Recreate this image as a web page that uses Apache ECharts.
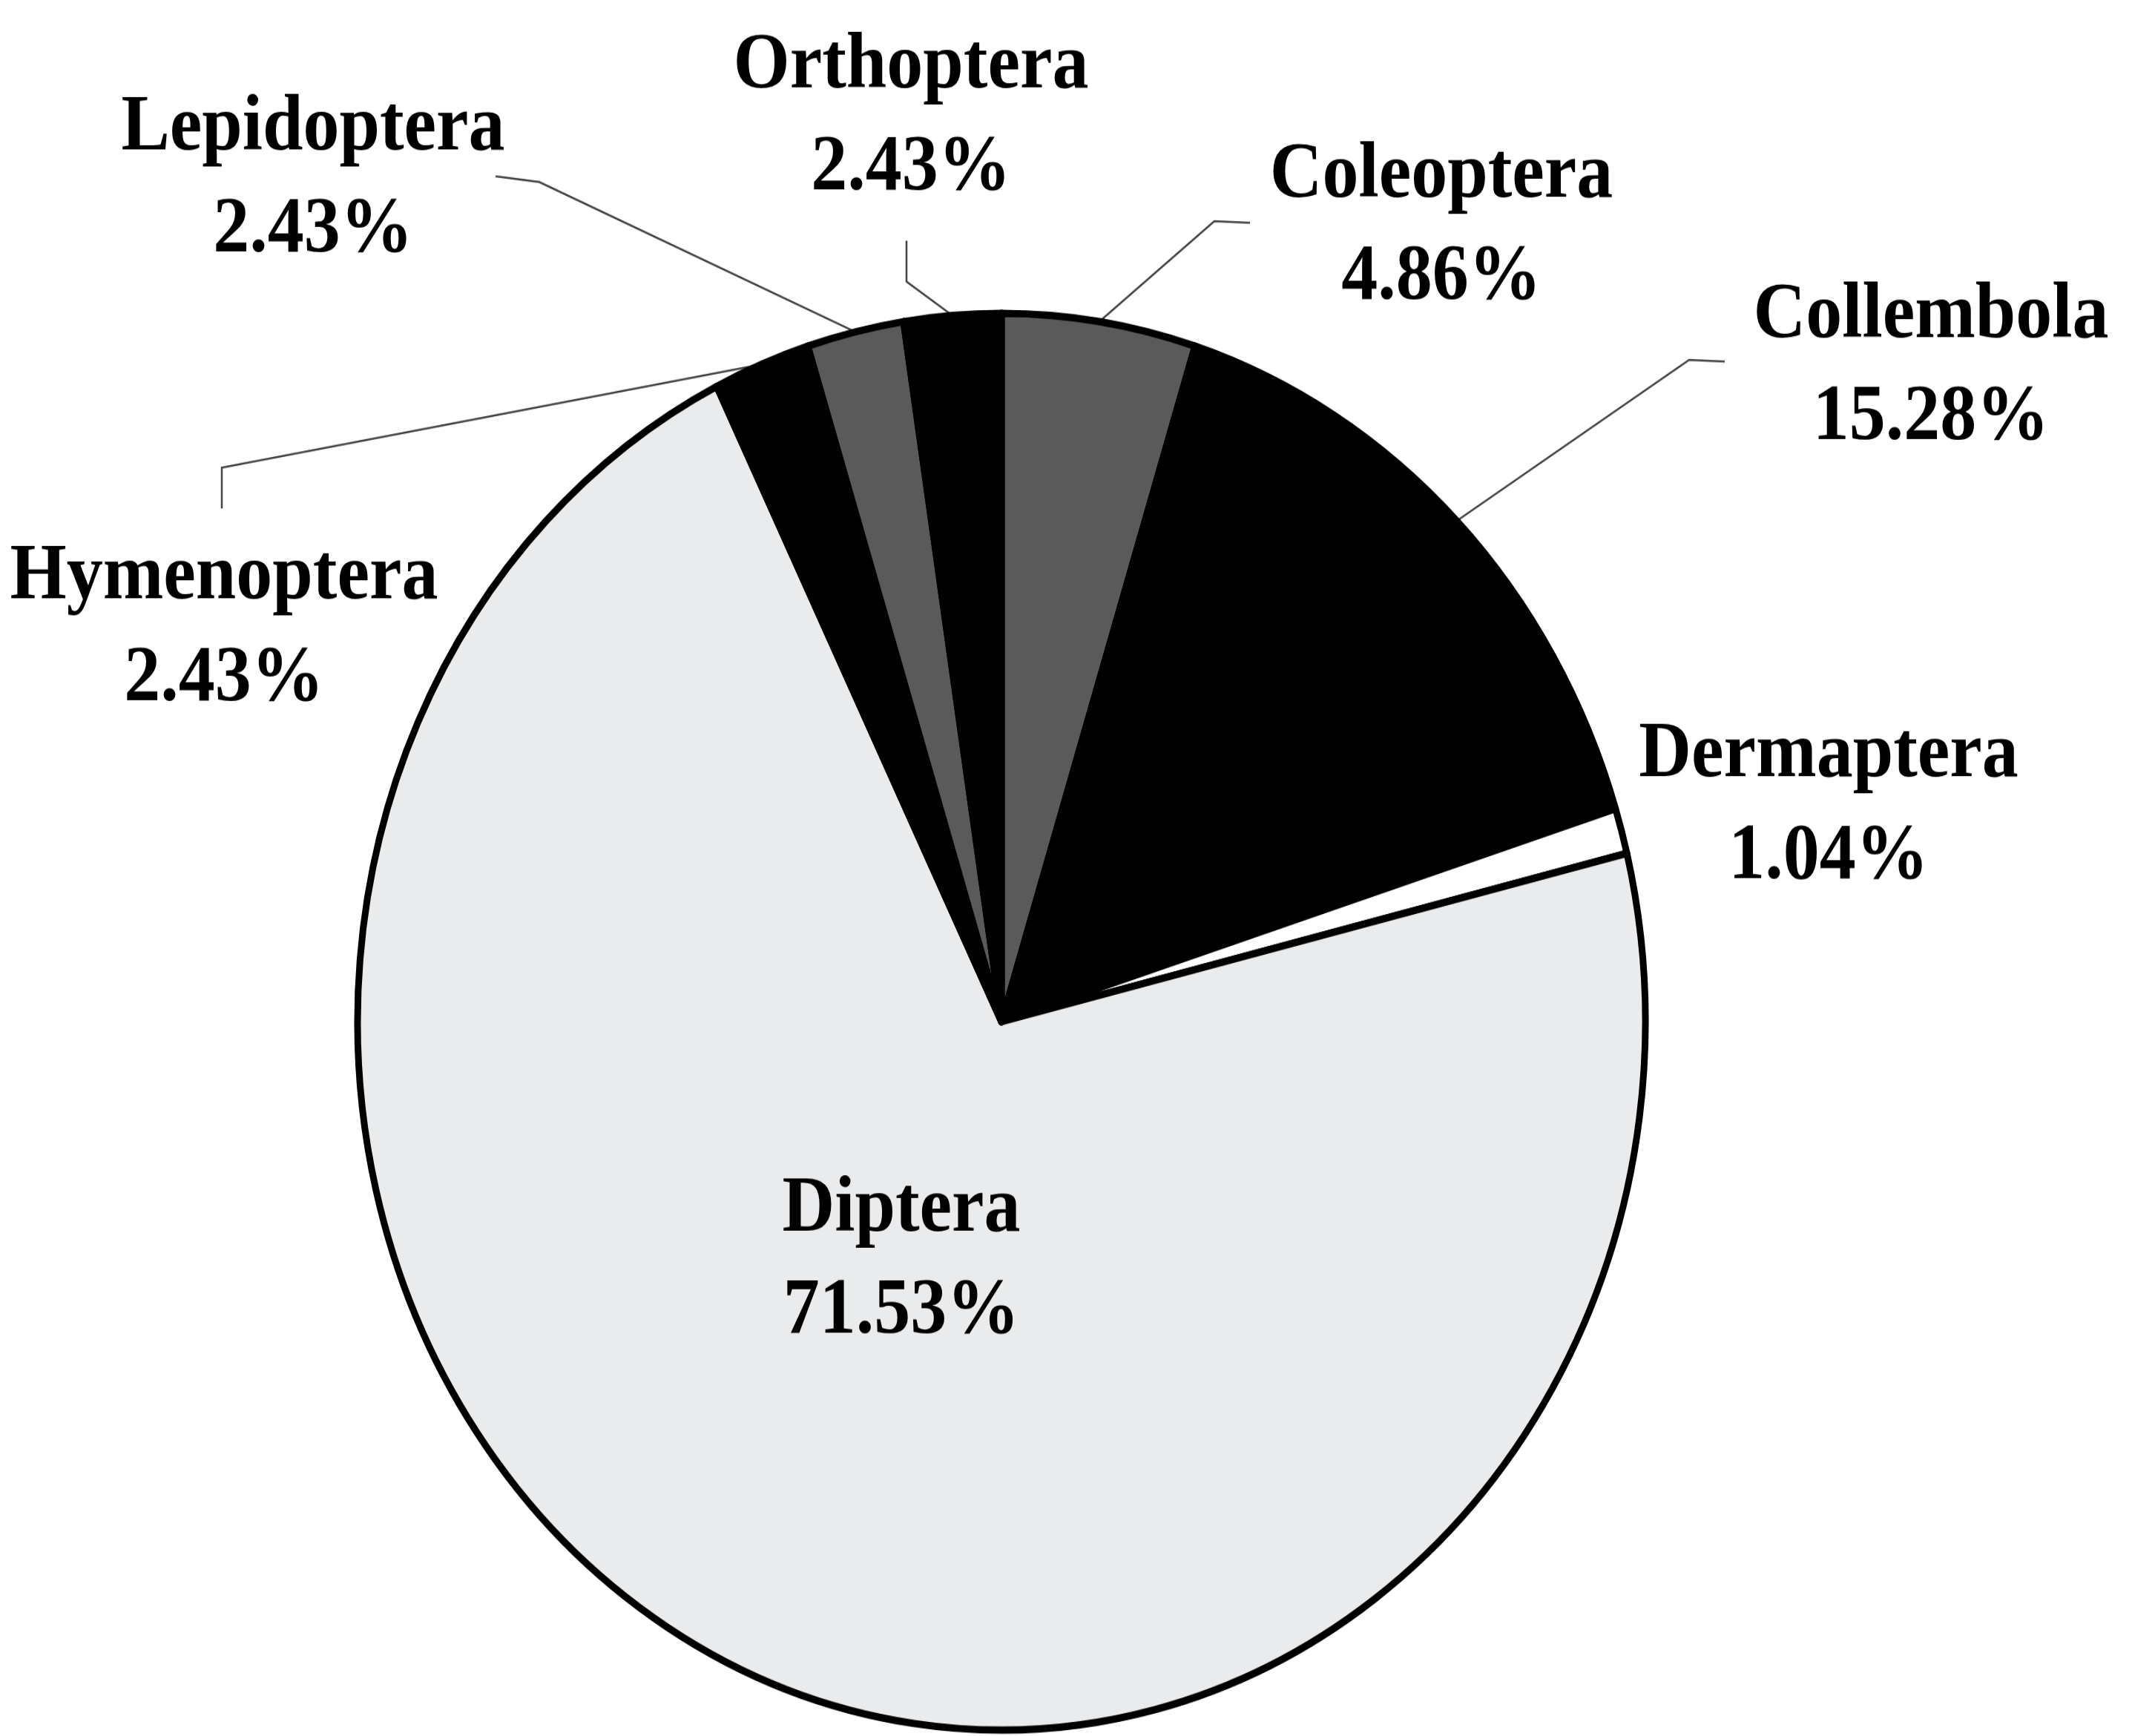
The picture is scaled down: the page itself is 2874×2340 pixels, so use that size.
<!DOCTYPE html>
<html>
<head>
<meta charset="utf-8">
<script src="https://cdn.jsdelivr.net/npm/echarts@6/dist/echarts.min.js"></script>
<style>
  html, body { margin: 0; padding: 0; background: #fff; overflow: hidden; }
  #page { width: 2874px; height: 2340px; overflow: hidden; background: #fff; }
  /* the scanned figure is a bit taller than wide, so stretch the chart vertically */
  #chart { width: 2874px; height: 2127px; transform: scaleY(1.1); transform-origin: 0 0; }
</style>
</head>
<body>
<div id="page"><div id="chart"></div></div>
<script>
const orders = ['Coleoptera', 'Collembola', 'Dermaptera', 'Diptera', 'Hymenoptera', 'Lepidoptera', 'Orthoptera'];
const percents = [4.86, 15.28, 1.04, 71.53, 2.43, 2.43, 2.43];

const sliceColors = ['#5a5a5a', '#000000', '#ffffff', '#e9ebed', '#000000', '#5a5a5a', '#000000'];
// where each label block sits (chart px, before stretch)
const labelSpots = [[1943, 278], [2603, 450], [2465, 988], [1215, 1545], [302, 770], [422, 220], [1228, 144]];
// leader line bend + end near the label (null = no leader line)
const leaderEnds = [
  [[1637, 271], [1685, 273]],
  [[2277, 441], [2325, 443]],
  null,
  null,
  [[299, 573], [299, 623]],
  [[727, 223], [668, 216]],
  [[1222, 345], [1222, 295]]
];

const chart = echarts.init(document.getElementById('chart'));

const seriesData = orders.map((name, i) => {
  const item = { name: name, value: percents[i], itemStyle: { color: sliceColors[i] } };
  if (name === 'Diptera') {
    item.label = { position: 'inside' };
    item.labelLine = { show: false };
  }
  if (name === 'Dermaptera') {
    item.labelLine = { show: false };
  }
  return item;
});

chart.setOption({
  backgroundColor: '#fff',
  animation: false,
  series: [
    {
      type: 'pie',
      center: [1350, 1252],
      radius: 868,
      startAngle: 90,
      clockwise: true,
      avoidLabelOverlap: false,
      itemStyle: {
        borderColor: '#000',
        borderWidth: 9
      },
      label: {
        show: true,
        position: 'outside',
        formatter: p => p.name + '\n' + p.value.toFixed(2) + '%',
        fontFamily: '"Liberation Serif", "Times New Roman", serif',
        fontWeight: 'bold',
        fontSize: 98,
        lineHeight: 125,
        color: '#000',
        align: 'center'
      },
      labelLine: {
        show: true,
        length: 30,
        length2: 30,
        lineStyle: { color: '#444', width: 2.5 }
      },
      labelLayout: function (params) {
        const i = params.dataIndex;
        const p = labelSpots[i];
        const out = { x: p[0], y: p[1], align: 'center', verticalAlign: 'middle' };
        const ends = leaderEnds[i];
        if (ends && params.labelLinePoints) {
          // first point is where the slice's mid-angle meets the rim
          out.labelLinePoints = [params.labelLinePoints[0], ends[0], ends[1]];
        }
        return out;
      },
      emphasis: { disabled: true },
      data: seriesData
    }
  ]
});
</script>
</body>
</html>
